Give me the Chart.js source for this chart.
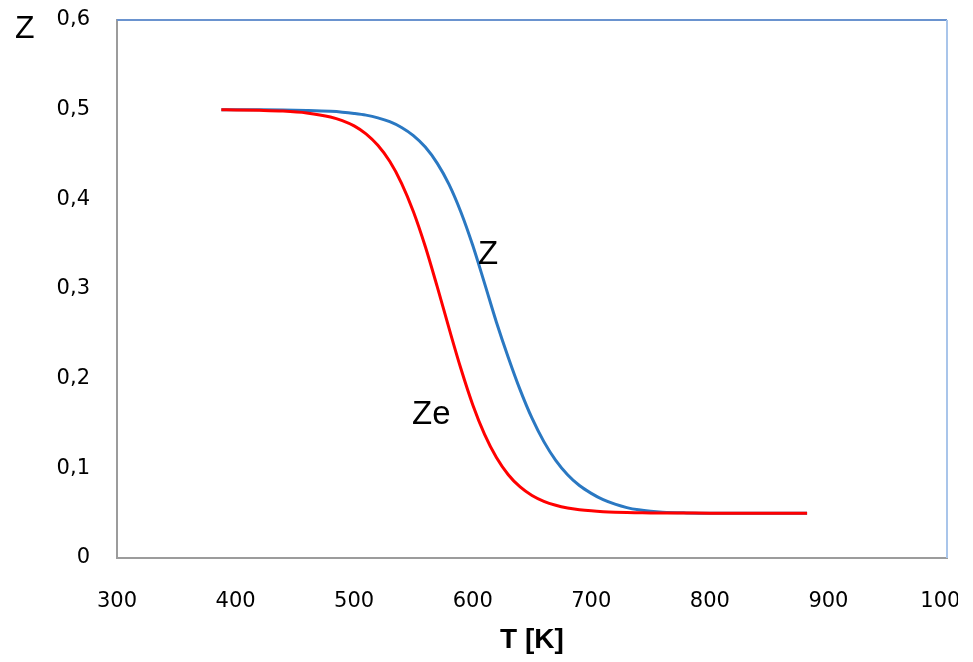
<!DOCTYPE html>
<html>
<head>
<meta charset="utf-8">
<script src="https://cdn.jsdelivr.net/npm/chart.js@4"></script>
<style>
  html, body { margin: 0; padding: 0; background: #ffffff; }
  #wrap { width: 958px; height: 662px; overflow: hidden; position: relative; }
  canvas { display: block; }
</style>
</head>
<body>
<div id="wrap"><canvas id="c" width="1000" height="662"></canvas></div>
<script>
// Temperature grid [K]
const temps = [388, 400, 420, 440, 460, 480, 490, 500, 510, 520, 530, 540, 550, 560, 570,
  580, 590, 600, 610, 620, 630, 640, 650, 660, 670, 680, 690, 700, 710, 720, 730, 740,
  750, 760, 780, 800, 840, 882];

// Z(T)
const zValues = [0.5000, 0.5000, 0.4998, 0.4995, 0.4990, 0.4981, 0.4972, 0.4958, 0.4939,
  0.4909, 0.4866, 0.4802, 0.4711, 0.4583, 0.4404, 0.4167, 0.3859, 0.3487, 0.3063, 0.2630,
  0.2237, 0.1875, 0.1559, 0.1298, 0.1089, 0.0929, 0.0808, 0.0721, 0.0650, 0.0600, 0.0562,
  0.0537, 0.0521, 0.0511, 0.0503, 0.0500, 0.0500, 0.0500];

// Ze(T)
const zeValues = [0.4998, 0.4997, 0.4993, 0.4985, 0.4964, 0.4919, 0.4878, 0.4819, 0.4730,
  0.4602, 0.4424, 0.4179, 0.3862, 0.3474, 0.3029, 0.2563, 0.2113, 0.1710, 0.1379, 0.1121,
  0.0929, 0.0792, 0.0697, 0.0632, 0.0588, 0.0558, 0.0539, 0.0526, 0.0517, 0.0511, 0.0507,
  0.0505, 0.0503, 0.0502, 0.0501, 0.0500, 0.0500, 0.0500];

const xTicks = [300, 400, 500, 600, 700, 800, 900, 1000];
const yTicks = [0, 0.1, 0.2, 0.3, 0.4, 0.5, 0.6];

const toPoints = vals => temps.map((t, i) => ({ x: t, y: vals[i] }));

const tickFont = { family: 'DejaVu Sans', size: 21 };
const textFont = '"Liberation Sans", Arial, sans-serif';

// Top/right frame of the plot area, curve labels and the Z axis caption
const decor = {
  id: 'decor',
  afterDraw(chart) {
    const { ctx, chartArea: a, scales: { x, y } } = chart;
    ctx.save();
    ctx.lineWidth = 2;
    ctx.strokeStyle = '#6a93cf';
    ctx.beginPath(); ctx.moveTo(a.left, a.top); ctx.lineTo(a.right, a.top); ctx.stroke();
    ctx.strokeStyle = '#a9c5ea';
    ctx.beginPath(); ctx.moveTo(a.right, a.top); ctx.lineTo(a.right, a.bottom); ctx.stroke();

    ctx.fillStyle = '#000';
    ctx.textAlign = 'left';
    ctx.textBaseline = 'alphabetic';
    ctx.font = '32px ' + textFont;
    ctx.fillText('Z', 15, 38);

    ctx.font = '33px ' + textFont;
    ctx.fillText('Z', x.getPixelForValue(604.5), y.getPixelForValue(0.328));
    ctx.fillText('Ze', x.getPixelForValue(548.8), y.getPixelForValue(0.149));
    ctx.restore();
  }
};

new Chart(document.getElementById('c'), {
  type: 'line',
  data: {
    datasets: [
      { label: 'Ze', data: toPoints(zeValues), borderColor: '#ff0000', borderWidth: 3,
        pointRadius: 0, cubicInterpolationMode: 'monotone', fill: false },
      { label: 'Z', data: toPoints(zValues), borderColor: '#2a78c2', borderWidth: 3,
        pointRadius: 0, cubicInterpolationMode: 'monotone', fill: false }
    ]
  },
  options: {
    responsive: false,
    animation: false,
    layout: { padding: { left: 0, top: 20, right: 53, bottom: 0 } },
    plugins: { legend: { display: false }, tooltip: { enabled: false } },
    scales: {
      x: {
        type: 'linear', min: 300, max: 1000,
        afterBuildTicks: s => { s.ticks = xTicks.map(v => ({ value: v })); },
        afterFit: s => { s.height = 104; s.paddingLeft = 0; s.paddingRight = 0; },
        grid: { display: false, drawTicks: false },
        border: { display: true, color: '#9c9c9c', width: 2 },
        ticks: { font: tickFont, color: '#000', padding: 31, maxRotation: 0, autoSkip: false,
          callback: v => String(v) },
        title: { display: true, text: 'T [K]', color: '#000',
          font: { family: 'Liberation Sans', size: 28, weight: 'bold' },
          padding: { top: 0, bottom: 5 } }
      },
      y: {
        type: 'linear', min: 0, max: 0.6,
        afterBuildTicks: s => { s.ticks = yTicks.map(v => ({ value: v })); },
        afterFit: s => { s.width = 117; s.paddingTop = 0; s.paddingBottom = 0; },
        grid: { display: false, drawTicks: false },
        border: { display: true, color: '#9c9c9c', width: 2 },
        ticks: { font: tickFont, color: '#000', padding: 27,
          callback: v => v === 0 ? '0' : v.toFixed(1).replace('.', ',') }
      }
    }
  },
  plugins: [decor]
});
</script>
</body>
</html>
